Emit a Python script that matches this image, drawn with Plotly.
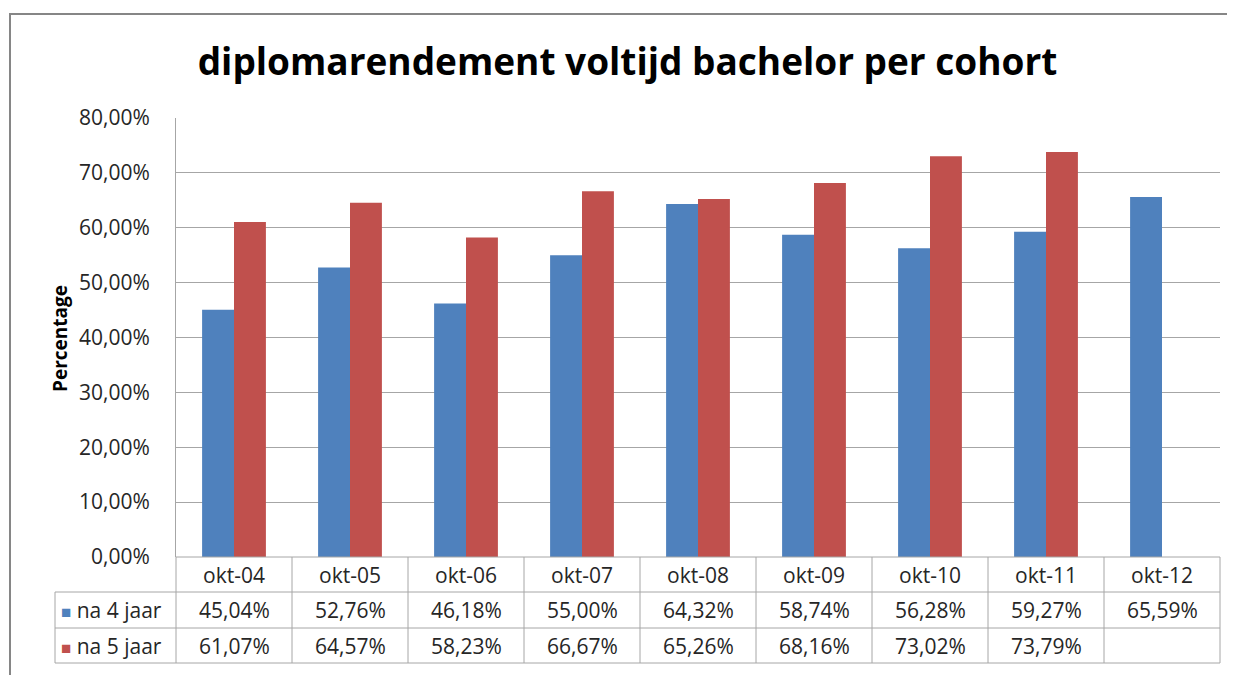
import plotly.graph_objects as go

categories = ["okt-04", "okt-05", "okt-06", "okt-07", "okt-08", "okt-09", "okt-10", "okt-11", "okt-12"]
na4 = [45.04, 52.76, 46.18, 55.00, 64.32, 58.74, 56.28, 59.27, 65.59]
na5 = [61.07, 64.57, 58.23, 66.67, 65.26, 68.16, 73.02, 73.79, None]
series_names = ["na 4 jaar", "na 5 jaar"]
colors = ["#4F81BD", "#C0504D"]
title = "diplomarendement voltijd bachelor per cohort"
y_title = "Percentage"

OFF = 8  # page body margin
W, H = 1235 - OFF, 675 - OFF
L, R, T, B = 176 - OFF, 1220 - OFF, 118 - OFF, 557 - OFF
pw, ph = R - L, B - T

def px_x(p):
    return (p - OFF - L) / pw

def px_y(p):
    return (B - (p - OFF)) / ph

grid = "#A6A6A6"
txt = "#262626"
font = "Open Sans, Liberation Sans, sans-serif"

fig = go.Figure()
for name, vals, c in zip(series_names, [na4, na5], colors):
    fig.add_bar(x=categories, y=vals, name=name, marker=dict(color=c, line=dict(width=0)))

shapes = []
# outer chart border (left and top edges visible)
shapes.append(dict(type="line", xref="paper", yref="paper",
                   x0=px_x(10), x1=px_x(10), y0=px_y(690), y1=px_y(14),
                   line=dict(color="#868686", width=2), layer="below"))
shapes.append(dict(type="line", xref="paper", yref="paper",
                   x0=px_x(9), x1=px_x(1250), y0=px_y(14), y1=px_y(14),
                   line=dict(color="#868686", width=2), layer="below"))
# table lines
n = len(categories)
rows_px = [557, 592, 628, 663]
for i, yp in enumerate(rows_px):
    x0 = 0 if i == 0 else px_x(55)
    shapes.append(dict(type="line", xref="paper", yref="paper", x0=x0, x1=1,
                       y0=px_y(yp), y1=px_y(yp), line=dict(color=grid, width=1)))
for i in range(n + 1):
    shapes.append(dict(type="line", xref="paper", yref="paper", x0=i / n, x1=i / n,
                       y0=px_y(663), y1=px_y(557), line=dict(color=grid, width=1)))
shapes.append(dict(type="line", xref="paper", yref="paper", x0=px_x(55), x1=px_x(55),
                   y0=px_y(663), y1=px_y(592), line=dict(color=grid, width=1)))

annotations = []
cell_font = dict(family=font, size=21, color=txt)
for c in categories:
    annotations.append(dict(x=c, xref="x", y=px_y(575), yref="paper", text=c,
                            showarrow=False, font=cell_font, xanchor="center", yanchor="middle"))
for r, (vals, name, col) in enumerate(zip([na4, na5], series_names, colors)):
    yc = px_y([610, 646][r])
    for c, v in zip(categories, vals):
        if v is None:
            continue
        annotations.append(dict(x=c, xref="x", y=yc, yref="paper",
                                text=f"{v:.2f}".replace(".", ",") + "%",
                                showarrow=False, font=cell_font, xanchor="center", yanchor="middle"))
    annotations.append(dict(x=px_x(59), xref="paper", y=yc, yref="paper",
                            text=f"<span style='color:{col};font-size:17px'>■</span> {name}",
                            showarrow=False, font=dict(family=font, size=21, color=txt),
                            xanchor="left", yanchor="middle"))
annotations.append(dict(x=px_x(60), xref="paper", y=px_y(339), yref="paper", text=f"<b>{y_title}</b>",
                        textangle=-90, showarrow=False, font=dict(family=font, size=19, color="#000000"),
                        xanchor="center", yanchor="middle"))

fig.update_layout(
    width=W, height=H,
    margin=dict(l=L, r=W - R, t=T, b=H - B, pad=0),
    paper_bgcolor="white", plot_bgcolor="white",
    separators=",.",
    title=dict(text=f"<b>{title}</b>", x=(627.5 - OFF) / W, xanchor="center", y=1 - (62 - OFF) / H,
               yanchor="middle", font=dict(family=font, size=37, color="#000000")),
    barmode="group", bargap=0.45, bargroupgap=0,
    showlegend=False,
    xaxis=dict(showticklabels=False, showgrid=False, showline=False, zeroline=False,
               range=[-0.5, n - 0.5], fixedrange=True),
    yaxis=dict(range=[0, 80], dtick=10, tickformat=".2f", ticksuffix="%",
               showgrid=True, gridcolor=grid, gridwidth=1, zeroline=False,
               showline=True, linecolor=grid, linewidth=1, ticks="",
               ticklabelstandoff=21,
               tickfont=dict(family=font, size=21, color=txt)),
    shapes=shapes, annotations=annotations,
)

fig.write_html("out.html")
